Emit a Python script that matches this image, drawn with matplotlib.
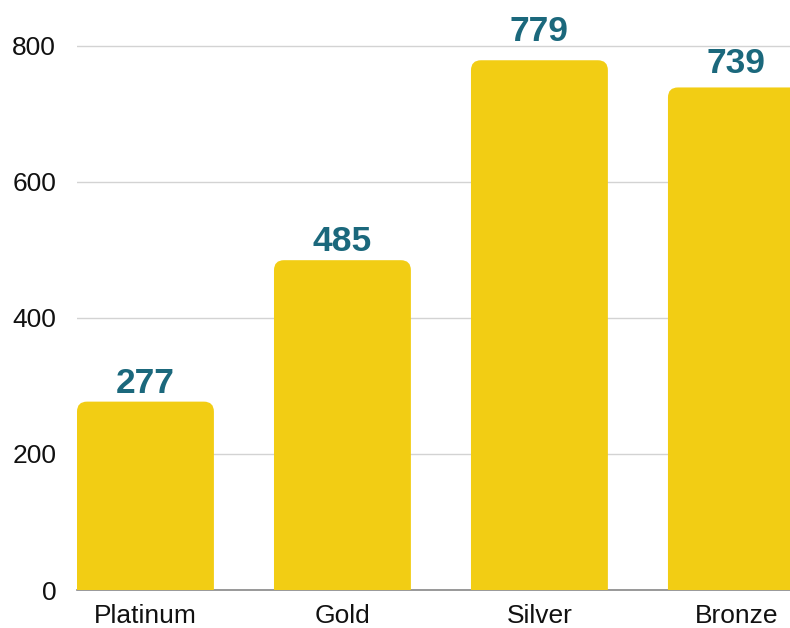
import matplotlib.pyplot as plt
from matplotlib.patches import FancyBboxPatch

categories = ["Platinum", "Gold", "Silver", "Bronze"]
values = [277, 485, 779, 739]
yticks = [0, 200, 400, 600, 800]

bar_color = "#F2CD14"
label_color = "#1B687C"
label_gap_px = [9, 9, 19, 14]  # space between bar top and its value label

plt.rcParams['font.family'] = ['Liberation Sans', 'DejaVu Sans']

fig = plt.figure(figsize=(7.9, 6.28), dpi=100)
ax = fig.add_axes([77 / 790, 38 / 628, 713 / 790, 590 / 628])

x = list(range(len(categories)))
width = 0.695
ax.set_xlim(-width / 2, 3.272)
ax.set_ylim(0, 867.6)

# px per data unit, used to keep the corner rounding circular
px_x = 713 / (3.272 + width / 2)
px_y = 590 / 867.6
radius = 10 / px_x

for xi, v, gap in zip(x, values, label_gap_px):
    patch = FancyBboxPatch((xi - width / 2, -40), width, v + 40,
                           boxstyle=f"round,pad=0,rounding_size={radius}",
                           mutation_aspect=px_x / px_y,
                           facecolor=bar_color, edgecolor="none", zorder=2)
    ax.add_patch(patch)
    ax.text(xi, v + gap / px_y, str(v), ha="center", va="baseline",
            fontsize=25.5, fontweight="bold", color=label_color, zorder=3)

ax.set_yticks(yticks)
ax.set_yticklabels([str(t) for t in yticks])
ax.set_xticks(x)
ax.set_xticklabels(categories)
ax.tick_params(axis="both", length=0, labelsize=19, colors="#111111")
ax.tick_params(axis="y", pad=15)
ax.tick_params(axis="x", pad=10)

ax.grid(axis="y", color="#D3D3D3", linewidth=1, zorder=0)
ax.set_axisbelow(True)
for s in ["top", "right", "left"]:
    ax.spines[s].set_visible(False)
ax.spines["bottom"].set_color("#888888")
ax.spines["bottom"].set_linewidth(1.2)
ax.spines["bottom"].set_zorder(1)

fig.savefig("out.png", dpi=100)
